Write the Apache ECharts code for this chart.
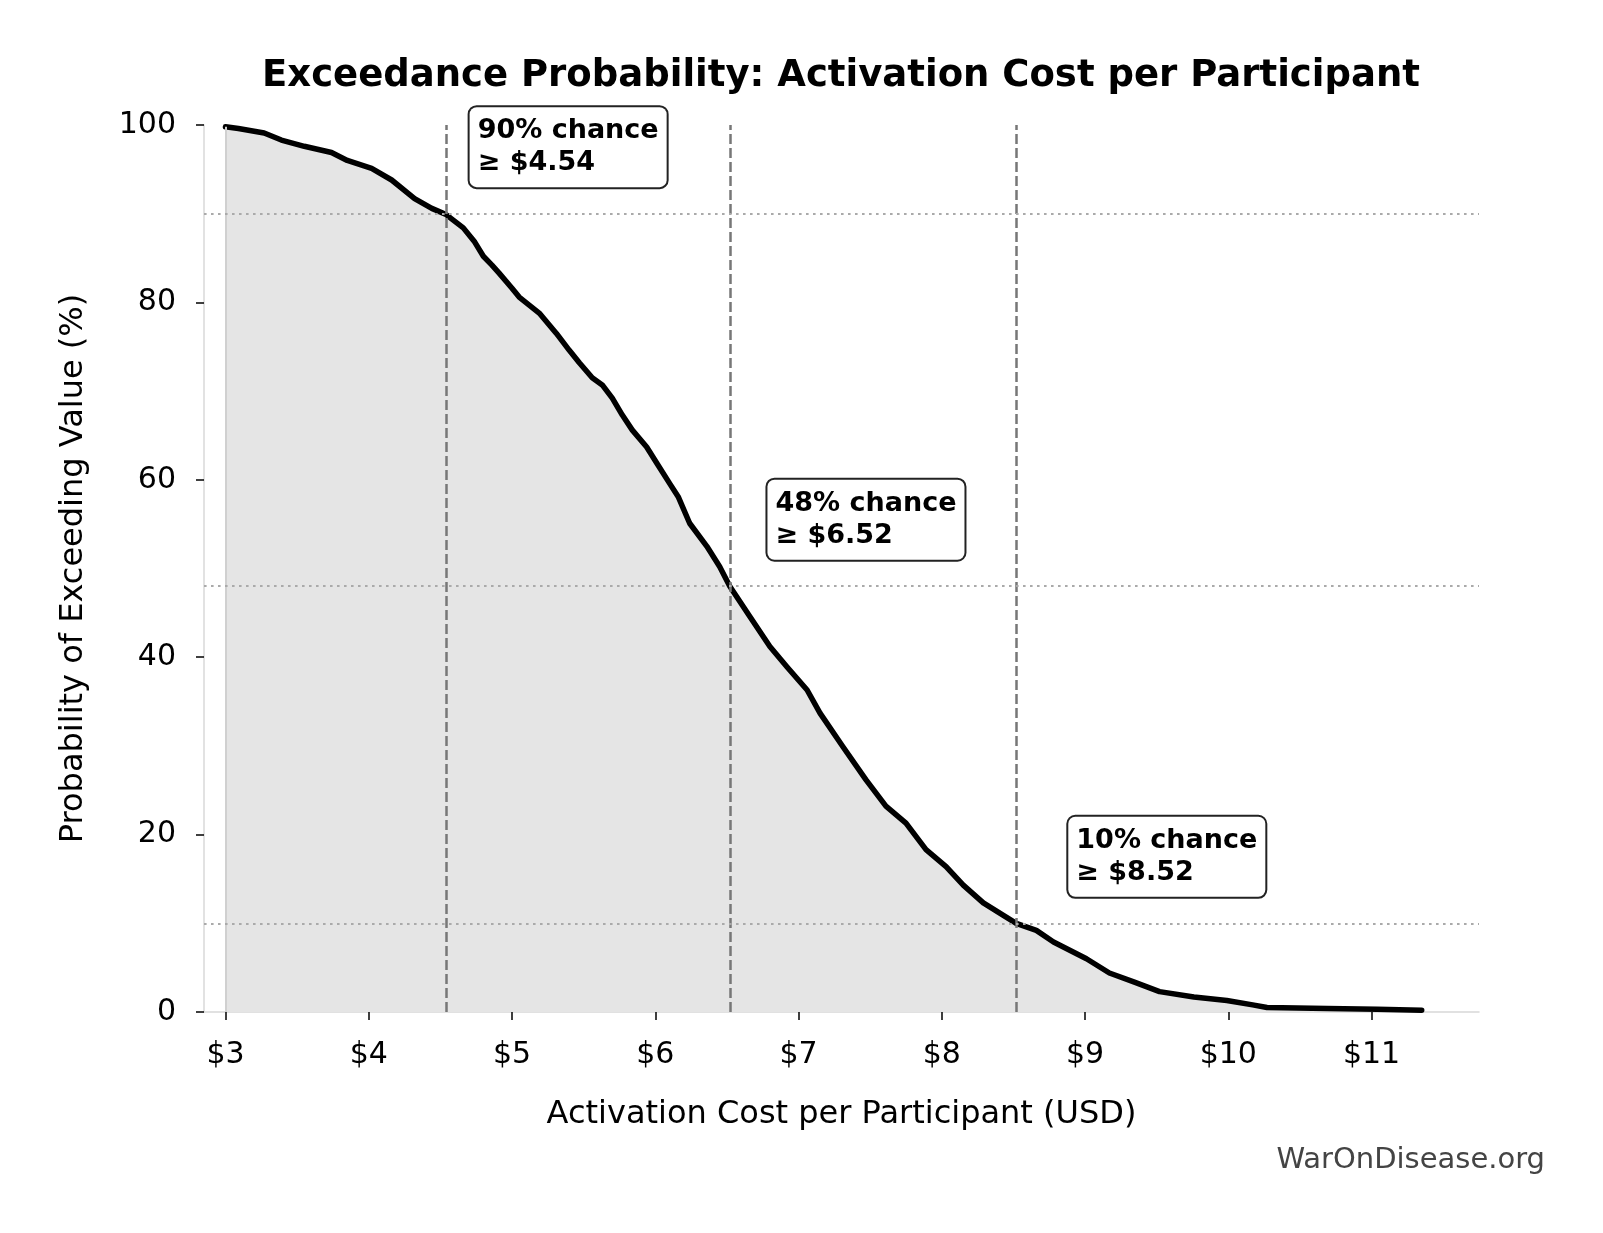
<!DOCTYPE html>
<html>
<head>
<meta charset="utf-8">
<title>Exceedance Probability</title>
<script src="https://cdn.jsdelivr.net/npm/echarts@6/dist/echarts.min.js"></script>
<style>
  html, body { margin: 0; padding: 0; background: #fff; }
  #chart { width: 1603px; height: 1233px; }
</style>
</head>
<body>
<div id="chart"></div>
<script>
// exceedance curve
const cost = [3.00, 3.09, 3.27, 3.39, 3.55, 3.74, 3.85, 4.02, 4.16, 4.32, 4.44, 4.54, 4.66, 4.74, 4.80, 4.86, 4.91, 5.00,
  5.05, 5.19, 5.31, 5.40, 5.47, 5.56, 5.63, 5.70, 5.77, 5.84, 5.94, 6.01, 6.10, 6.16, 6.24, 6.36, 6.45, 6.52, 6.66,
  6.80, 6.92, 7.06, 7.15, 7.31, 7.47, 7.61, 7.75, 7.89, 8.03, 8.15, 8.29, 8.43, 8.52, 8.66, 8.78, 9.01, 9.17, 9.34,
  9.52, 9.76, 9.99, 10.17, 10.27, 10.69, 11.04, 11.35]
const prob = [99.8, 99.6, 99.1, 98.3, 97.6, 96.9, 96.0, 95.1, 93.8, 91.7, 90.6, 89.9, 88.4, 86.8, 85.2, 84.2, 83.3, 81.6,
  80.6, 78.8, 76.5, 74.6, 73.2, 71.5, 70.7, 69.2, 67.3, 65.6, 63.7, 61.9, 59.6, 58.1, 55.1, 52.5, 50.2, 48.0, 44.6,
  41.2, 38.9, 36.3, 33.7, 29.9, 26.2, 23.2, 21.3, 18.3, 16.4, 14.3, 12.3, 10.9, 10.0, 9.2, 7.9, 6.0, 4.4, 3.4,
  2.3, 1.7, 1.3, 0.8, 0.5, 0.4, 0.3, 0.2]

// reference thresholds
const refProb = [90, 48, 10]
const refCost = [4.54, 6.52, 8.52]

const xTicks = [3, 4, 5, 6, 7, 8, 9, 10, 11]
const yTicks = [0, 20, 40, 60, 80, 100]

const FONT = 'DejaVu Sans'
const points = cost.map((c, i) => [c, prob[i]])

const chart = echarts.init(document.getElementById('chart'))

const vLines = refCost.map(c => ({
  xAxis: c,
  lineStyle: { color: '#777', width: 2.5, type: [10, 4] }
}))
const hLines = refProb.map(p => ({
  yAxis: p,
  lineStyle: { color: '#aaa', width: 2, type: [2.6, 4.4] }
}))

const notes = refProb.map((p, i) => ({
  coord: [refCost[i] * 1.05, p + 7.5],
  value: p + '% chance\n≥ $' + refCost[i].toFixed(2)
}))

chart.setOption({
  animation: false,
  backgroundColor: '#fff',
  title: {
    text: 'Exceedance Probability: Activation Cost per Participant',
    left: 836,
    top: 53,
    textAlign: 'center',
    textStyle: { fontFamily: FONT, fontWeight: 'bold', fontSize: 37, color: '#000' }
  },
  graphic: [{
    type: 'text',
    right: 58,
    top: 1146,
    style: { text: 'WarOnDisease.org', font: '29px "DejaVu Sans"', fill: '#444' }
  }],
  grid: { left: 204, right: 124, top: 125, bottom: 221, containLabel: false },
  xAxis: {
    type: 'value',
    min: 2.85,
    max: 11.75,
    name: 'Activation Cost per Participant (USD)',
    nameLocation: 'middle',
    nameGap: 87,
    nameTextStyle: { fontFamily: FONT, fontSize: 32, color: '#000' },
    axisLine: { show: true, lineStyle: { color: '#d8d8d8', width: 1.5 } },
    axisTick: { show: true, length: 8, customValues: xTicks, lineStyle: { color: '#000', width: 1.5 } },
    axisLabel: {
      customValues: xTicks,
      margin: 28,
      fontFamily: FONT, fontSize: 30, color: '#000',
      formatter: v => '$' + v
    },
    splitLine: { show: false }
  },
  yAxis: {
    type: 'value',
    min: 0,
    max: 100,
    interval: 20,
    name: 'Probability of Exceeding Value (%)',
    nameLocation: 'middle',
    nameGap: 114,
    nameTextStyle: { fontFamily: FONT, fontSize: 32, color: '#000' },
    axisLine: { show: true, lineStyle: { color: '#d8d8d8', width: 1.5 } },
    axisTick: { show: true, length: 8, lineStyle: { color: '#000', width: 1.5 } },
    axisLabel: {
      customValues: yTicks,
      margin: 28,
      fontFamily: FONT, fontSize: 30, color: '#000'
    },
    splitLine: { show: false }
  },
  series: [
    {
      name: 'fill',
      type: 'line',
      data: points,
      symbol: 'none',
      z: 1,
      lineStyle: { width: 0 },
      areaStyle: { color: '#e5e5e5', opacity: 1 },
      markLine: {
        silent: true,
        symbol: 'none',
        label: { show: false },
        lineStyle: { color: '#d0d0d0', width: 2, type: 'solid' },
        data: [[{ coord: [cost[0], 0] }, { coord: [cost[0], prob[0]] }]]
      }
    },
    {
      name: 'refs',
      type: 'line',
      data: [],
      z: 2,
      markLine: {
        silent: true,
        symbol: 'none',
        label: { show: false },
        data: vLines.concat(hLines)
      }
    },
    {
      name: 'exceedance',
      type: 'line',
      data: points,
      symbol: 'none',
      z: 3,
      lineStyle: { color: '#000', width: 5.5, cap: 'round', join: 'round' },
      markPoint: {
        symbol: 'rect',
        symbolSize: 0,
        silent: true,
        data: notes,
        label: {
          show: true,
          position: [0, 0],
          offset: [-9, 0],
          align: 'left',
          verticalAlign: 'middle',
          formatter: p => p.value,
          fontFamily: FONT,
          fontWeight: 'bold',
          fontSize: 27,
          lineHeight: 32,
          color: '#000',
          backgroundColor: '#fff',
          borderColor: '#222',
          borderWidth: 2,
          borderRadius: 7,
          padding: [8, 8, 8, 8]
        }
      }
    }
  ]
})
</script>
</body>
</html>
